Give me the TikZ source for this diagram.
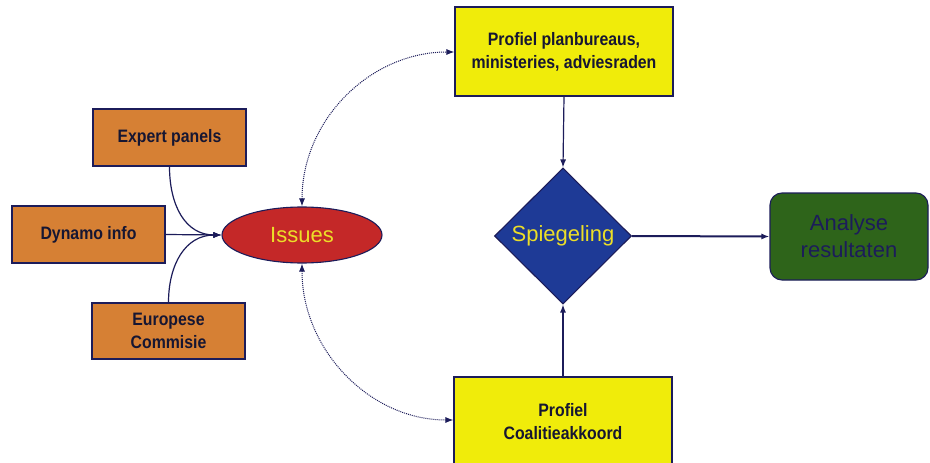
\documentclass[tikz,border=0pt]{standalone}
\usepackage{fontspec}
\setmainfont{Liberation Sans}
\newfontfamily\nb{Liberation Sans}[FakeStretch=0.88]
\usetikzlibrary{shapes.geometric,arrows.meta}
\definecolor{ornj}{RGB}{214,128,52}
\definecolor{yel}{RGB}{240,236,10}
\definecolor{redd}{RGB}{196,40,40}
\definecolor{blu}{RGB}{30,58,150}
\definecolor{grn}{RGB}{46,100,26}
\definecolor{edge}{RGB}{28,28,90}
\definecolor{txt}{RGB}{22,22,50}
\definecolor{ytxt}{RGB}{236,222,40}
\tikzset{
  base/.style={draw=edge, line width=1.1pt, inner sep=0pt, align=center},
  obox/.style={base, rectangle, fill=ornj, minimum width=153pt, minimum height=57pt,
    text=txt, font=\nb\bfseries\fontsize{18}{23}\selectfont},
  ybox/.style={base, rectangle, fill=yel, minimum width=218pt, minimum height=89pt,
    text=txt, font=\nb\bfseries\fontsize{18}{23}\selectfont},
  conn/.style={draw=edge, line width=1.2pt, -{Latex[length=8pt,width=6pt]}},
  dconn/.style={draw=edge, line width=1pt, densely dotted,
    {Latex[length=8pt,width=6pt]}-{Latex[length=8pt,width=6pt]}},
}
\begin{document}
\begin{tikzpicture}[x=1pt,y=-1pt]
\useasboundingbox (0,0) rectangle (930,463);
\clip (0,0) rectangle (930,463);
\fill[white] (0,0) rectangle (930,463);

\node[obox] (exp) at (169.5,137.5) {Expert panels};
\node[obox] (dyn) at (88.5,234.5) {Dynamo info};
\node[obox, minimum height=56pt] (eur) at (168.5,331) {Europese\\Commisie};
\node[base, ellipse, fill=redd, minimum width=160pt, minimum height=56pt,
  text=ytxt, font=\fontsize{22}{26}\selectfont] (iss) at (302,235) {Issues};

\node[ybox] (pp) at (564,51.5) {Profiel planbureaus,\\ministeries, adviesraden};
\node[ybox] (pc) at (563,421.5) {Profiel\\Coalitieakkoord};
\node[base, diamond, fill=blu, minimum width=137pt, minimum height=136pt,
  text=ytxt, font=\fontsize{22}{26}\selectfont] (sp) at (563,236) {Spiegeling};
\node[base, rectangle, rounded corners=12pt, fill=grn, minimum width=158pt, minimum height=87pt,
  text=edge, font=\fontsize{22}{27}\selectfont] (ana) at (849,236.5) {Analyse\\resultaten};

\draw[conn] (exp.south) .. controls (169.5,205) and (185,235) .. (iss.west);
\draw[conn] (dyn.east) -- (iss.west);
\draw[conn] (eur.north) .. controls (168.5,265) and (185,235) .. (iss.west);

\draw[dconn] (iss.north) .. controls (302,120) and (370,52) .. (pp.west |- 0,52);
\draw[dconn] (iss.south) .. controls (302,350) and (370,420) .. (pc.west |- 0,420);

\draw[conn] (pp.south) -- (sp.north);
\draw[conn] (pc.north) -- (sp.south);
\draw[conn, line width=2pt] (sp.east) -- (ana.west);
\end{tikzpicture}
\end{document}
